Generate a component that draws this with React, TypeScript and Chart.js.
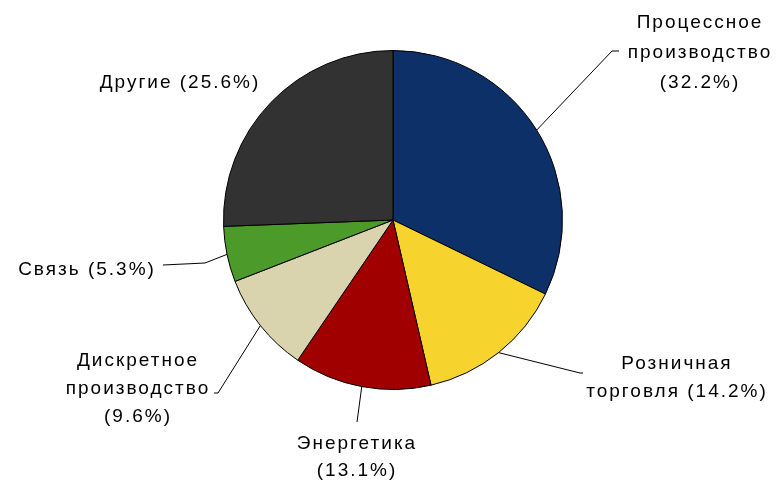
import React, { useEffect, useRef } from "react";
import { Chart, registerables } from "chart.js";

Chart.register(...registerables);

// ---- data ----
const categories = [
  "Процессное производство",
  "Розничная торговля",
  "Энергетика",
  "Дискретное производство",
  "Связь",
  "Другие",
];
const shares = [32.2, 14.2, 13.1, 9.6, 5.3, 25.6];
const labelLines: string[][] = [
  ["Процессное", "производство", "(32.2%)"],
  ["Розничная", "торговля (14.2%)"],
  ["Энергетика", "(13.1%)"],
  ["Дискретное", "производство", "(9.6%)"],
  ["Связь (5.3%)"],
  ["Другие (25.6%)"],
];
const sliceColors = ["#0c3067", "#f7d32e", "#a10000", "#d9d3ae", "#4c9a2a", "#323232"];

// ---- label layout (positions of annotation text and leader line bends) ----
type LabelLayout = { cx: number; cy: number; lh: number; leader: [number, number][] };
const labelLayout: LabelLayout[] = [
  { cx: 699, cy: 23, lh: 30, leader: [[612, 51], [619, 51]] },
  { cx: 676, cy: 364, lh: 28, leader: [[580, 373], [583, 373]] },
  { cx: 356, cy: 444, lh: 27, leader: [[357, 422]] },
  { cx: 137, cy: 361, lh: 28, leader: [[218, 393], [214, 393]] },
  { cx: 86, cy: 270, lh: 28, leader: [[205, 263], [163, 265]] },
  { cx: 179, cy: 83, lh: 28, leader: [] },
];

const FONT = '19px "Liberation Sans", Arial, sans-serif';

const labelPlugin = {
  id: "pieLabels",
  afterDraw(chart: any) {
    const ctx = chart.ctx as CanvasRenderingContext2D;
    const meta = chart.getDatasetMeta(0);
    ctx.save();
    meta.data.forEach((arc: any, i: number) => {
      const lay = labelLayout[i];
      const { x, y, startAngle, endAngle, outerRadius } = arc.getProps(
        ["x", "y", "startAngle", "endAngle", "outerRadius"],
        true
      );
      const mid = (startAngle + endAngle) / 2;
      const px = x + Math.cos(mid) * outerRadius;
      const py = y + Math.sin(mid) * outerRadius;
      if (lay.leader.length) {
        ctx.beginPath();
        ctx.strokeStyle = "#000";
        ctx.lineWidth = 1;
        ctx.moveTo(px, py);
        lay.leader.forEach(([lx, ly]) => ctx.lineTo(lx, ly));
        ctx.stroke();
      }
      ctx.fillStyle = "#000";
      ctx.font = FONT;
      (ctx as any).letterSpacing = "2px";
      ctx.textAlign = "center";
      ctx.textBaseline = "middle";
      const lines = labelLines[i];
      lines.forEach((t, k) => {
        ctx.fillText(t, lay.cx + 1, lay.cy + k * lay.lh);
      });
    });
    ctx.restore();
  },
};

export default function App() {
  const ref = useRef<HTMLCanvasElement | null>(null);
  useEffect(() => {
    document.body.style.margin = "0";
    const chart = new Chart(ref.current!, {
      type: "pie",
      data: {
        labels: categories,
        datasets: [
          {
            data: shares,
            backgroundColor: sliceColors,
            borderColor: "#000",
            borderWidth: 1,
          },
        ],
      },
      options: {
        responsive: false,
        animation: false,
        layout: { padding: { top: 50, bottom: 96, left: 223, right: 220 } },
        plugins: {
          legend: { display: false },
          tooltip: { enabled: false },
        },
      },
      plugins: [labelPlugin],
    });
    return () => chart.destroy();
  }, []);
  return (
    <div style={{ width: 783, height: 486, background: "#fff" }}>
      <canvas ref={ref} width={783} height={486} />
    </div>
  );
}
